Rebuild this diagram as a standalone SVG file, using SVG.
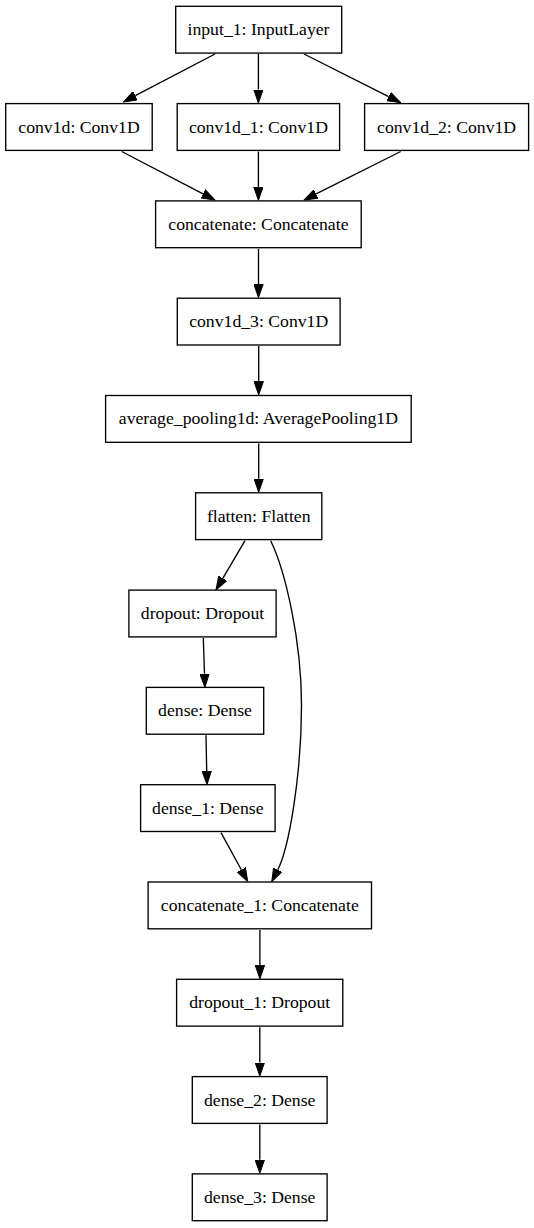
<svg xmlns="http://www.w3.org/2000/svg" width="534" height="1228" viewBox="0 0 534 1228">
<style>
.n rect{fill:#fff;stroke:#000;stroke-width:1.35}
.n text{font-family:"Liberation Serif","Times New Roman",serif;font-size:17.7px;text-anchor:middle;fill:#000}
#edges path{fill:none;stroke:#000;stroke-width:1.35;marker-end:url(#arr)}
</style>
<defs>
<marker id="arr" markerUnits="userSpaceOnUse" markerWidth="14" markerHeight="10" viewBox="0 0 14 10" refX="0" refY="5" orient="auto">
<path d="M0,0.3 L13.5,5 L0,9.7 Z" fill="#000" stroke="#000" stroke-width="1"/>
</marker>
</defs>
<rect width="534" height="1228" fill="#fff"/>
<g id="edges">
<path d="M215,54 L135.3,95.7"/>
<path d="M258.4,54 L258.4,89.5"/>
<path d="M304,54 L388.6,96.6"/>
<path d="M121.7,151.5 L203,193.8"/>
<path d="M258.4,151.5 L258.4,186.8"/>
<path d="M400.7,151.5 L316.1,193.9"/>
<path d="M258.5,248.8 L258.5,284.1"/>
<path d="M258.7,346.1 L258.7,381.4"/>
<path d="M258.7,443.4 L258.7,478.7"/>
<path d="M245,540.7 L222.8,578.4"/>
<path d="M270.7,540.7 C285,570 301.5,640 301.5,705 C301.5,775 289,847.5 277.8,869.7"/>
<path d="M203.3,638 L204.5,673.8"/>
<path d="M206,735.3 L206.7,771"/>
<path d="M221,832.6 L241.3,869.8"/>
<path d="M259.9,929.9 L259.9,965.2"/>
<path d="M259.8,1027.2 L259.8,1062.5"/>
<path d="M259.8,1124.5 L259.8,1159.8"/>
</g>
<g id="input_1" class="n"><rect x="175.7" y="6.3" width="166" height="46.8"/><text x="258.5" y="35.2">input_1: InputLayer</text></g>
<g id="conv1d" class="n"><rect x="5.7" y="103.6" width="146.5" height="46.8"/><text x="79" y="132.5">conv1d: Conv1D</text></g>
<g id="conv1d_1" class="n"><rect x="177.2" y="103.6" width="162.4" height="46.8"/><text x="258.4" y="132.5">conv1d_1: Conv1D</text></g>
<g id="conv1d_2" class="n"><rect x="364.6" y="103.6" width="164" height="46.8"/><text x="446.6" y="132.5">conv1d_2: Conv1D</text></g>
<g id="concatenate" class="n"><rect x="155.6" y="200.9" width="205.6" height="46.8"/><text x="258.4" y="229.8">concatenate: Concatenate</text></g>
<g id="conv1d_3" class="n"><rect x="177.3" y="298.2" width="162.8" height="46.8"/><text x="258.7" y="327.1">conv1d_3: Conv1D</text></g>
<g id="average_pooling1d" class="n"><rect x="105.6" y="395.5" width="305.6" height="46.8"/><text x="258.4" y="424.4">average_pooling1d: AveragePooling1D</text></g>
<g id="flatten" class="n"><rect x="195.6" y="492.8" width="126.2" height="46.8"/><text x="258.7" y="521.7">flatten: Flatten</text></g>
<g id="dropout" class="n"><rect x="128.9" y="590.1" width="147.2" height="46.8"/><text x="202.5" y="619">dropout: Dropout</text></g>
<g id="dense" class="n"><rect x="146.3" y="687.4" width="117.4" height="46.8"/><text x="205" y="716.3">dense: Dense</text></g>
<g id="dense_1" class="n"><rect x="140.6" y="784.7" width="134.5" height="46.8"/><text x="207.8" y="813.6">dense_1: Dense</text></g>
<g id="concatenate_1" class="n"><rect x="148.1" y="882" width="223.4" height="46.8"/><text x="259.8" y="910.9">concatenate_1: Concatenate</text></g>
<g id="dropout_1" class="n"><rect x="176.6" y="979.3" width="166.2" height="46.8"/><text x="259.7" y="1008.2">dropout_1: Dropout</text></g>
<g id="dense_2" class="n"><rect x="192.3" y="1076.6" width="134.8" height="46.8"/><text x="259.7" y="1105.5">dense_2: Dense</text></g>
<g id="dense_3" class="n"><rect x="192.3" y="1173.9" width="134.8" height="46.8"/><text x="259.7" y="1202.8">dense_3: Dense</text></g>
</svg>
